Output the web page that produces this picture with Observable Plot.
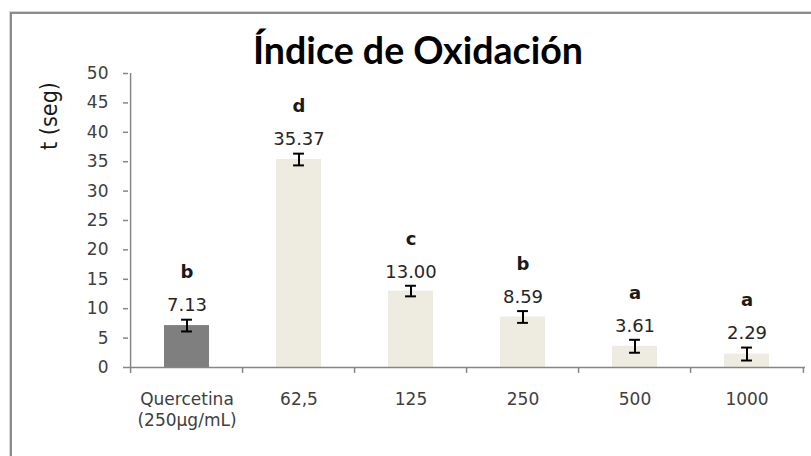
<!DOCTYPE html>
<html><head><meta charset="utf-8">
<script src="https://cdn.jsdelivr.net/npm/d3@7"></script>
<script src="https://cdn.jsdelivr.net/npm/@observablehq/plot@0.6"></script>
<style>
body{margin:0;background:#fff;}
#wrap{position:relative;width:811px;height:456px;overflow:hidden;background:#fff;}
#frame{position:absolute;left:10px;top:12px;width:900px;height:600px;border-left:2px solid #8c8c8c;border-top:2px solid #8c8c8c;box-shadow:-1px -1px 0 #d4d4d4;pointer-events:none;}
</style></head><body>
<div id="wrap"><div id="chart"></div><div id="frame"></div></div>
<script>
// ---- data ----
const categories = ["Quercetina\n(250µg/mL)", "62,5", "125", "250", "500", "1000"];
const values = [7.13, 35.37, 13.00, 8.59, 3.61, 2.29];
const errors = [1.0, 1.0, 0.9, 1.0, 1.1, 1.1];
const letters = ["b", "d", "c", "b", "a", "a"];
const barColors = ["#7f7f7f", "#eeece1", "#eeece1", "#eeece1", "#eeece1", "#eeece1"];
const yTicks = [0, 5, 10, 15, 20, 25, 30, 35, 40, 45, 50];
const title = "Índice de Oxidación";
const yLabel = "t (seg)";

const data = categories.map((c, i) => ({cat: c, v: values[i], e: errors[i], l: letters[i], fill: barColors[i]}));

const W = 811, H = 456, mL = 128, mR = 6, mT = 73, mB = 89;
const step = (W - mL - mR) / categories.length;
const bw = step * 0.4;
const axisColor = "#868686";

const plot = Plot.plot({
  width: W, height: H,
  marginLeft: mL, marginRight: mR, marginTop: mT, marginBottom: mB,
  style: {fontFamily: "DejaVu Sans", background: "white", overflow: "visible"},
  x: {domain: categories, paddingInner: 0.6, paddingOuter: 0.3, label: null},
  y: {domain: [0, 50], label: null},
  marks: [
    Plot.barY(data, {x: "cat", y: "v", fill: "fill"}),
    Plot.ruleY([0], {stroke: axisColor, strokeWidth: 1.5}),
    Plot.ruleX([categories[0]], {y1: -1, y2: 50, dx: -step / 2, stroke: axisColor, strokeWidth: 1.5}),
    Plot.ruleX(categories.slice(1), {y1: -1, y2: 0, dx: -step / 2, stroke: axisColor, strokeWidth: 1.5}),
    Plot.ruleX([categories[categories.length - 1]], {y1: -1, y2: 0, dx: step / 2, stroke: axisColor, strokeWidth: 1.5}),
    Plot.axisY({ticks: yTicks, tickSize: 5, tickFormat: () => "", stroke: axisColor, strokeWidth: 1.5, label: null}),
    Plot.axisY({ticks: yTicks, tickSize: 0, tickPadding: 20, fontSize: 17, fill: "#404040", label: null}),
    Plot.axisX({tickSize: 0, tickPadding: 22, fontSize: 17, lineHeight: 1.25, fill: "#404040", label: null}),
    Plot.ruleX(data, {x: "cat", y1: d => d.v - d.e, y2: d => d.v + d.e, stroke: "#000", strokeWidth: 2}),
    Plot.tickY(data, {x: "cat", y: d => d.v - d.e, stroke: "#000", strokeWidth: 2, insetLeft: (bw - 11) / 2, insetRight: (bw - 11) / 2}),
    Plot.tickY(data, {x: "cat", y: d => d.v + d.e, stroke: "#000", strokeWidth: 2, insetLeft: (bw - 11) / 2, insetRight: (bw - 11) / 2}),
    Plot.text(data, {x: "cat", y: d => d.v + d.e, text: d => d.v.toFixed(2), dy: -14, fontSize: 18, fill: "#262626"}),
    Plot.text(data, {x: "cat", y: d => d.v + d.e, text: "l", dy: -47, fontSize: 18, fontWeight: "bold", fill: "#1a1a1a"})
  ]
});

const svg = d3.select(plot);
svg.append("text")
  .attr("x", 418).attr("y", 64)
  .attr("text-anchor", "middle")
  .attr("font-family", "Lato, 'Open Sans', sans-serif")
  .attr("font-weight", "bold")
  .attr("font-size", 38)
  .attr("textLength", 330)
  .attr("lengthAdjust", "spacingAndGlyphs")
  .attr("fill", "#000")
  .text(title);
svg.append("text")
  .attr("transform", "translate(57,116) rotate(-90)")
  .attr("text-anchor", "middle")
  .attr("font-family", "DejaVu Sans")
  .attr("font-size", 23)
  .attr("textLength", 68)
  .attr("lengthAdjust", "spacingAndGlyphs")
  .attr("fill", "#1a1a1a")
  .text(yLabel);

document.getElementById("chart").appendChild(plot);
</script>
</body></html>
